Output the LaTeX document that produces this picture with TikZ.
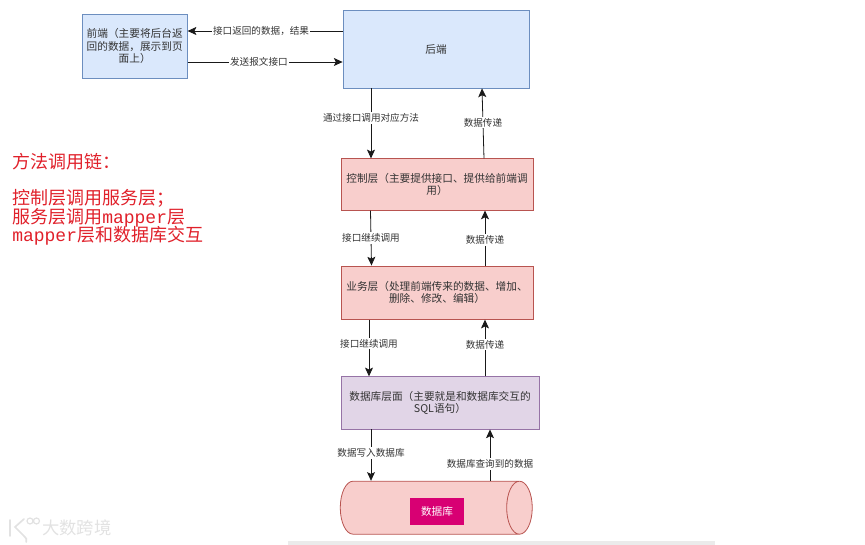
\documentclass[tikz,border=0pt]{standalone}
\usepackage{fontspec}
\setmainfont{Noto Sans CJK SC}
\newfontfamily\monofont{Liberation Mono}
\usetikzlibrary{shapes.geometric,arrows.meta,positioning,calc}

\definecolor{bluefill}{HTML}{DAE8FC}
\definecolor{blueline}{HTML}{6C8EBF}
\definecolor{redfill}{HTML}{F8CECC}
\definecolor{redline}{HTML}{B85450}
\definecolor{purplefill}{HTML}{E1D5E7}
\definecolor{purpleline}{HTML}{9673A6}
\definecolor{tagfill}{HTML}{D80073}
\definecolor{notered}{HTML}{E0202A}
\definecolor{markgray}{HTML}{E2E2E2}

\begin{document}
\begin{tikzpicture}[
  x=0.75pt, y=-0.75pt,
  every node/.style={font=\fontsize{8pt}{9.5pt}\selectfont, text=black!80},
  front/.style={rectangle, draw=blueline, fill=bluefill, semithick, minimum width=78.75pt, minimum height=48pt, align=center, inner sep=2pt},
  back/.style={rectangle, draw=blueline, fill=bluefill, semithick, minimum width=139.5pt, minimum height=58.5pt, align=center},
  layer/.style={rectangle, draw=redline, fill=redfill, semithick, minimum width=144pt, minimum height=38.5pt, align=center, inner sep=2pt},
  mapperlayer/.style={rectangle, draw=purpleline, fill=purplefill, semithick, minimum width=148.5pt, minimum height=39.25pt, align=center, inner sep=2pt},
  store/.style={cylinder, draw=redline, fill=redfill, semithick, minimum width=39.75pt, minimum height=144pt, aspect=0.8, inner sep=0pt},
  tag/.style={rectangle, fill=tagfill, text=white, minimum width=40.5pt, minimum height=20.25pt, inner sep=0pt},
  arrow/.style={-{Stealth[length=2.3mm, width=2.1mm, inset=0.5mm]}, semithick, black!90},
  flow/.style={fill=white, font=\fontsize{7.2pt}{9pt}\selectfont, inner sep=1pt},
  note/.style={font=\fontsize{13.5pt}{13.6pt}\selectfont, text=notered, align=left, anchor=north west, inner sep=0pt},
  wmark/.style={font=\fontsize{13pt}{15pt}\selectfont, text=markgray, inner sep=0pt}
]
\useasboundingbox (0,0) rectangle (865,545);

% Stack of layers
\node[back] (backend) at (436,49) {后端};
\node[front, left=116.25pt of backend, yshift=2.25pt] (frontend) {前端（主要将后台返\\回的数据，展示到页\\面上）};
\node[layer, below=52.5pt of backend, xshift=0.75pt] (control) {控制层（主要提供接口、提供给前端调\\用）};
\node[layer, below=41.25pt of control, minimum height=40pt] (service) {业务层（处理前端传来的数据、增加、\\删除、修改、编辑）};
\node[mapperlayer, below=42.5pt of service, xshift=2.25pt] (mapper) {数据库层面（主要就是和数据库交互的\\SQL语句）};
\node[store, below=38.5pt of mapper, xshift=-7.75pt] (database) {\rule{0pt}{24pt}};
\node[tag] (dbtag) at (437,511.5) {数据库};

% Frontend and backend
\draw[arrow] ([yshift=13.5pt]backend.west) -- node[flow, pos=0.526] {接口返回的数据，结果} ([yshift=11.25pt]frontend.east);
\draw[arrow] ([yshift=-12pt]frontend.east) -- node[flow, pos=0.46] {发送报文接口} ([yshift=-9.75pt]backend.west);

% Calls going down
\draw[arrow] ([xshift=-48.75pt]backend.south) -- node[flow, pos=0.42] {通过接口调用对应方法} ([xshift=-49.5pt]control.north);
\draw[arrow] ([xshift=-49.875pt]control.south) -- node[flow, pos=0.5] {接口继续调用} ([xshift=-49.125pt]service.north);
\draw[arrow] ([xshift=-51pt]service.south) -- node[flow, pos=0.42] {接口继续调用} ([xshift=-53.25pt]mapper.north);
\draw[arrow] ([xshift=-51.75pt]mapper.south) -- node[flow, pos=0.46] {数据写入数据库} (database.north -| {371,481});

% Data going up
\draw[arrow] (database.north -| {490,480}) -- node[flow, pos=0.33] {数据库查询到的数据} ([xshift=37.5pt]mapper.south);
\draw[arrow] ([xshift=33.75pt]mapper.north) -- node[flow, pos=0.56] {数据传递} ([xshift=36pt]service.south);
\draw[arrow] ([xshift=36pt]service.north) -- node[flow, pos=0.46] {数据传递} ([xshift=36pt]control.south);
\draw[arrow] ([xshift=35.25pt]control.north) -- node[flow, pos=0.51] {数据传递} ([xshift=34.5pt]backend.south);

% Note on the left
\node[note] (chain) at (12,153) {方法调用链：\\[13.5pt]控制层调用服务层；\\[0.75pt]服务层调用{\monofont mapper}层\\[-2.25pt]{\monofont mapper}层和数据库交互};

% Watermark and scroll bar
\fill[black!8] (288,541) rectangle (715,545);
\node[wmark, anchor=west] (markname) at (42,528) {大数跨境};
\draw[markgray, line width=1.3pt, line cap=round] (10,520) -- (10,536);
\draw[markgray, line width=1.3pt, line cap=round] (24,519) -- (15,527) -- (24,536) arc[start angle=-60, end angle=20, radius=5];
\draw[markgray, line width=0.9pt] (30,521) circle[radius=3] (36.5,521) circle[radius=3];
\end{tikzpicture}
\end{document}
